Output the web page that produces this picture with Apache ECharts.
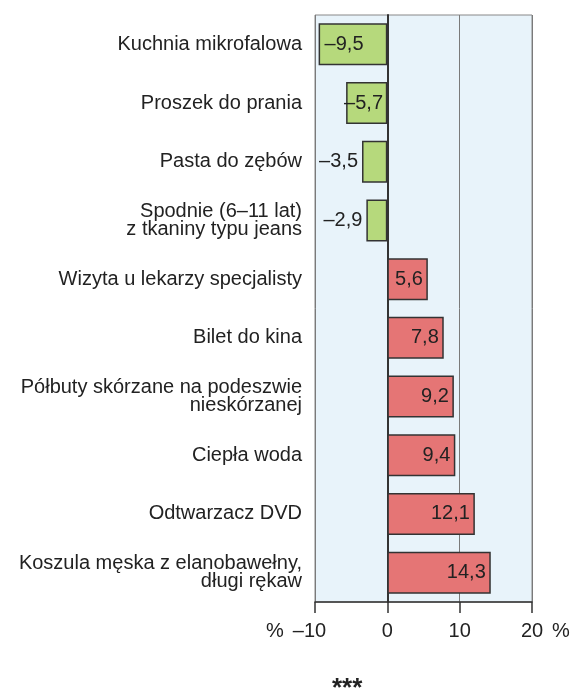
<!DOCTYPE html>
<html>
<head>
<meta charset="utf-8">
<script src="https://cdn.jsdelivr.net/npm/echarts@6/dist/echarts.min.js"></script>
<style>
  html, body { margin: 0; padding: 0; background: #fff; }
  #chart { width: 571px; height: 693px; }
</style>
</head>
<body>
<div id="chart"></div>
<script>
// kategorie (od góry)
const CATEGORIES = [
  'Kuchnia mikrofalowa',
  'Proszek do prania',
  'Pasta do zębów',
  'Spodnie (6–11 lat)\nz tkaniny typu jeans',
  'Wizyta u lekarzy specjalisty',
  'Bilet do kina',
  'Półbuty skórzane na podeszwie\nnieskórzanej',
  'Ciepła woda',
  'Odtwarzacz DVD',
  'Koszula męska z elanobawełny,\ndługi rękaw'
];

// zmiana cen w %
const VALUES = [-9.5, -5.7, -3.5, -2.9, 5.6, 7.8, 9.2, 9.4, 12.1, 14.3];

const X_TICKS = [-10, 0, 10, 20];

const FONT = 'Liberation Sans, Arial, sans-serif';
const fmt = v => String(Math.abs(v)).replace('.', ',');
const sign = v => (v < 0 ? '–' : '') + fmt(v);

const chart = echarts.init(document.getElementById('chart'));

const barData = VALUES.map(v => {
  const neg = v < 0;
  let label;
  if (!neg) {
    label = { position: 'insideRight', distance: 5 };
  } else if (v <= -5) {
    label = { position: 'insideLeft', distance: v < -9 ? 6 : -2 };
  } else {
    label = { position: 'left', distance: 4 };
  }
  return {
    value: v,
    itemStyle: { color: neg ? '#b6d97c' : '#e57575' },
    label: label
  };
});

chart.setOption({
  animation: false,
  grid: {
    left: 315, right: 39, top: 15, bottom: 91,
    show: true,
    backgroundColor: '#e8f3fa',
    borderColor: '#888',
    borderWidth: 1
  },
  xAxis: {
    type: 'value',
    min: X_TICKS[0],
    max: X_TICKS[X_TICKS.length - 1],
    interval: 10,
    axisLine: { show: true, onZero: false, lineStyle: { color: '#333', width: 1.5 } },
    axisTick: { show: true, length: 11, lineStyle: { color: '#333', width: 1.5 } },
    axisLabel: {
      color: '#222', fontSize: 20, fontFamily: FONT, margin: 19,
      // minus wystaje w lewo, liczba wyśrodkowana na kresce
      formatter: v => v < 0 ? '{n|' + sign(v) + '}' : sign(v),
      rich: { n: { fontSize: 20, fontFamily: FONT, color: '#222', padding: [0, 11, 0, 0] } }
    },
    splitLine: { show: true, lineStyle: { color: '#7a7a7a', width: 1 } }
  },
  yAxis: {
    type: 'category',
    inverse: true,
    data: CATEGORIES,
    axisLine: { show: true, onZero: true, lineStyle: { color: '#333', width: 2 } },
    axisTick: { show: false },
    axisLabel: {
      color: '#222', fontSize: 20, fontFamily: FONT, lineHeight: 17.5,
      align: 'right', margin: 13
    }
  },
  series: [{
    type: 'bar',
    data: barData,
    barWidth: 42,
    itemStyle: { borderColor: '#333', borderWidth: 1.5 },
    label: {
      show: true, color: '#222', fontSize: 20, fontFamily: FONT,
      formatter: p => sign(p.value)
    }
  }],
  graphic: [
    { type: 'text', left: 266, top: 621, style: { text: '%', fontSize: 20, fontFamily: FONT, fill: '#222' } },
    { type: 'text', left: 552, top: 621, style: { text: '%', fontSize: 20, fontFamily: FONT, fill: '#222' } },
    { type: 'text', left: 332, top: 676, style: { text: '***', fontSize: 26, fontWeight: 'bold', fontFamily: FONT, fill: '#222' } }
  ]
});
</script>
</body>
</html>
